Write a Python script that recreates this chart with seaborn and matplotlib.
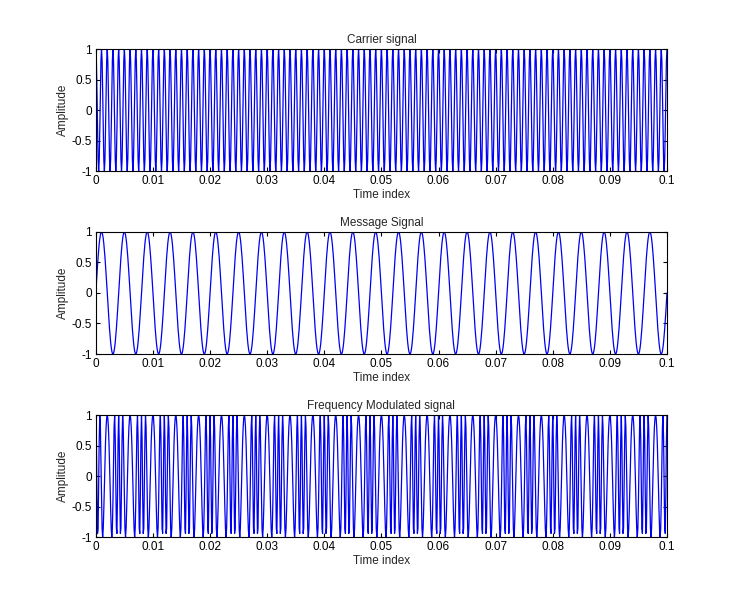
import numpy as np
import pandas as pd
import matplotlib
matplotlib.use("Agg")
import matplotlib.pyplot as plt
import seaborn as sns

# signal parameters
fs = 10000          # samples per second
t_end = 0.1         # seconds
fc = 1000           # carrier frequency (Hz)
fm = 250            # message frequency (Hz)
beta = 2            # modulation index

time = np.arange(0, t_end + 1 / fs / 2, 1 / fs)
carrier = np.cos(2 * np.pi * fc * time)
message = np.sin(2 * np.pi * fm * time)
fm_signal = np.cos(2 * np.pi * fc * time + beta * np.sin(2 * np.pi * fm * time))

titles = ["Carrier signal", "Message Signal", "Frequency Modulated signal"]
x_ticks = [0, 0.01, 0.02, 0.03, 0.04, 0.05, 0.06, 0.07, 0.08, 0.09, 0.1]
x_labels = ["0", "0.01", "0.02", "0.03", "0.04", "0.05", "0.06", "0.07", "0.08", "0.09", "0.1"]
y_ticks = [-1, -0.5, 0, 0.5, 1]
y_labels = ["-1", "-0.5", "0", "0.5", "1"]

sns.set_theme(style="ticks")
plt.rcParams['font.family'] = ['Liberation Sans', 'DejaVu Sans']

fig = plt.figure(figsize=(7.37, 6.09), dpi=100)
fig.patch.set_facecolor("white")

positions = [
    [0.130, 0.719, 0.775, 0.2005],
    [0.130, 0.4187, 0.775, 0.2005],
    [0.130, 0.118, 0.775, 0.2005],
]

signals = [carrier, message, fm_signal]
for pos, sig, title in zip(positions, signals, titles):
    ax = fig.add_axes(pos)
    df = pd.DataFrame({"t": time, "y": sig})
    sns.lineplot(data=df, x="t", y="y", ax=ax, color=(0, 0, 0.95),
                 linewidth=0.9, estimator=None, sort=False)
    ax.set_xlim(0, t_end)
    ax.set_ylim(-1, 1)
    ax.set_xticks(x_ticks)
    ax.set_xticklabels(x_labels)
    ax.set_yticks(y_ticks)
    ax.set_yticklabels(y_labels)
    ax.tick_params(direction="in", top=True, right=True, length=3,
                   width=0.8, labelsize=8.5, colors="black", pad=3)
    for s in ax.spines.values():
        s.set_visible(True)
        s.set_color("black")
        s.set_linewidth(0.8)
    ax.set_title(title, fontsize=8.5, pad=4)
    ax.set_xlabel("Time index", fontsize=8.5, labelpad=1)
    ax.set_ylabel("Amplitude", fontsize=8.5, labelpad=2)
    ax.set_facecolor("white")

plt.savefig("out.png", dpi=100, facecolor="white")
